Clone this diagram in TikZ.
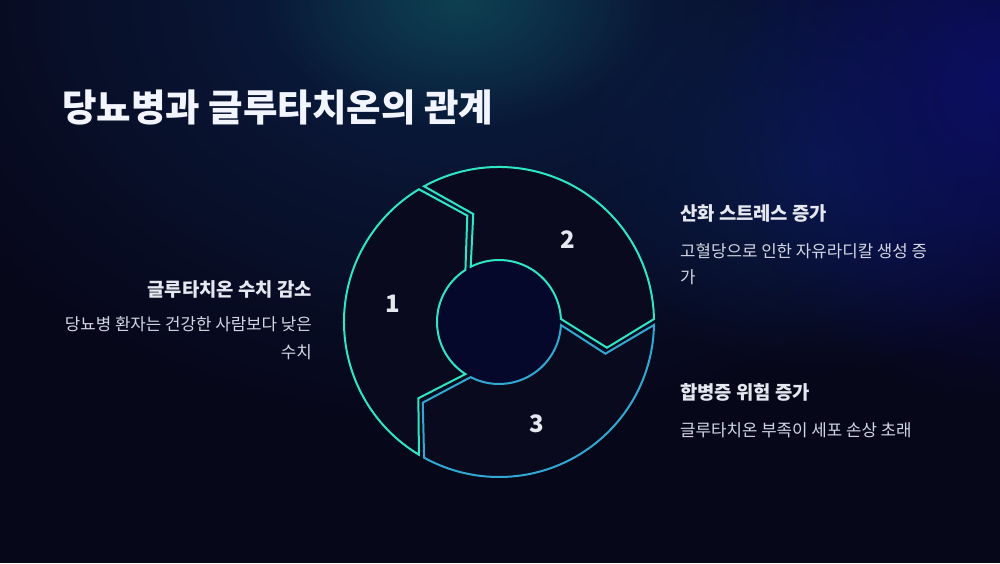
\documentclass[tikz,border=0pt]{standalone}
\usepackage{fontspec}
\setmainfont{Noto Sans CJK KR}
\usetikzlibrary{fadings}
\tikzfading[name=glowfade, inner color=transparent!0, outer color=transparent!100]
\definecolor{bgbase}{HTML}{07071A}
\definecolor{glownavy}{HTML}{0B1F44}
\definecolor{glowteal}{HTML}{0E4050}
\definecolor{glowviolet}{HTML}{0C0E62}
\definecolor{glowmid}{HTML}{0A1B4A}
\definecolor{segteal}{HTML}{2EE6C4}
\definecolor{segblue}{HTML}{30A8D2}
\definecolor{segfill}{HTML}{0A0A1F}
\definecolor{discfill}{HTML}{05082A}
\definecolor{titlecol}{HTML}{F2F5FF}
\definecolor{headcol}{HTML}{E6E8F0}
\definecolor{bodycol}{HTML}{D2D6E2}
\tikzset{
  seg/.style={fill=segfill, line width=2pt, line join=miter},
  title/.style={text=titlecol, font=\fontsize{37.5}{40}\selectfont\bfseries, inner sep=0pt},
  heading/.style={text=headcol, font=\fontsize{18.8}{21}\selectfont\bfseries, inner sep=0pt},
  body/.style={text=bodycol, font=\fontsize{16.8}{27}\selectfont, inner sep=0pt},
  numlabel/.style={text=headcol, font=\fontsize{24}{26}\selectfont\bfseries, inner sep=0pt}
}
\begin{document}
\begin{tikzpicture}[x=1pt,y=1pt]
\useasboundingbox (0,0) rectangle (1000,563);
\fill[bgbase] (0,0) rectangle (1000,563);
\begin{scope}
  \clip (0,0) rectangle (1000,563);
  \fill[glownavy, path fading=glowfade] (460,563) ellipse [x radius=600, y radius=430];
  \fill[glowmid, path fading=glowfade] (820,400) ellipse [x radius=260, y radius=210];
  \fill[glowviolet, path fading=glowfade] (1000,480) ellipse [x radius=280, y radius=320];
  \fill[glowteal, path fading=glowfade] (460,563) ellipse [x radius=200, y radius=130];
\end{scope}

\node[title, anchor=west] (title) at (62,456) {당뇨병과 글루타치온의 관계};

\begin{scope}[shift={(499,241)}]
  \fill[discfill] (0,0) circle [radius=62pt];
  \foreach \h/\col in {120/segteal, 0/segteal, 240/segblue} {
    \pgfmathsetmacro\ta{\h+120-1.1}
    \pgfmathsetmacro\tb{\h+1.1}
    \pgfmathsetmacro\tc{\h-13.4}
    \pgfmathsetmacro\td{\h+2.8}
    \pgfmathsetmacro\te{\h+120-2.8}
    \pgfmathsetmacro\tf{\h+120-16.6}
    \filldraw[seg, draw=\col] (\ta:155) arc[start angle=\ta, end angle=\tb, radius=155pt]
      -- (\tc:111) -- (\td:62) arc[start angle=\td, end angle=\te, radius=62pt]
      -- (\tf:111) -- cycle;
  }
\end{scope}

\node[numlabel] (n1) at (393,259) {1};
\node[numlabel] (n2) at (568,323) {2};
\node[numlabel] (n3) at (537,139) {3};

\node[heading, anchor=east] (h1) at (312,274) {글루타치온 수치 감소};
\node[body, anchor=north east, align=right] (b1) at (312,246.5) {당뇨병 환자는 건강한 사람보다 낮은\\[1pt]수치};

\node[heading, anchor=west] (h2) at (680,350) {산화 스트레스 증가};
\node[body, anchor=north west, align=left] (b2) at (680,319.5) {고혈당으로 인한 자유라디칼 생성 증\\[-1pt]가};

\node[heading, anchor=west] (h3) at (680,171) {합병증 위험 증가};
\node[body, anchor=west] (b3) at (680,133) {글루타치온 부족이 세포 손상 초래};
\end{tikzpicture}
\end{document}
